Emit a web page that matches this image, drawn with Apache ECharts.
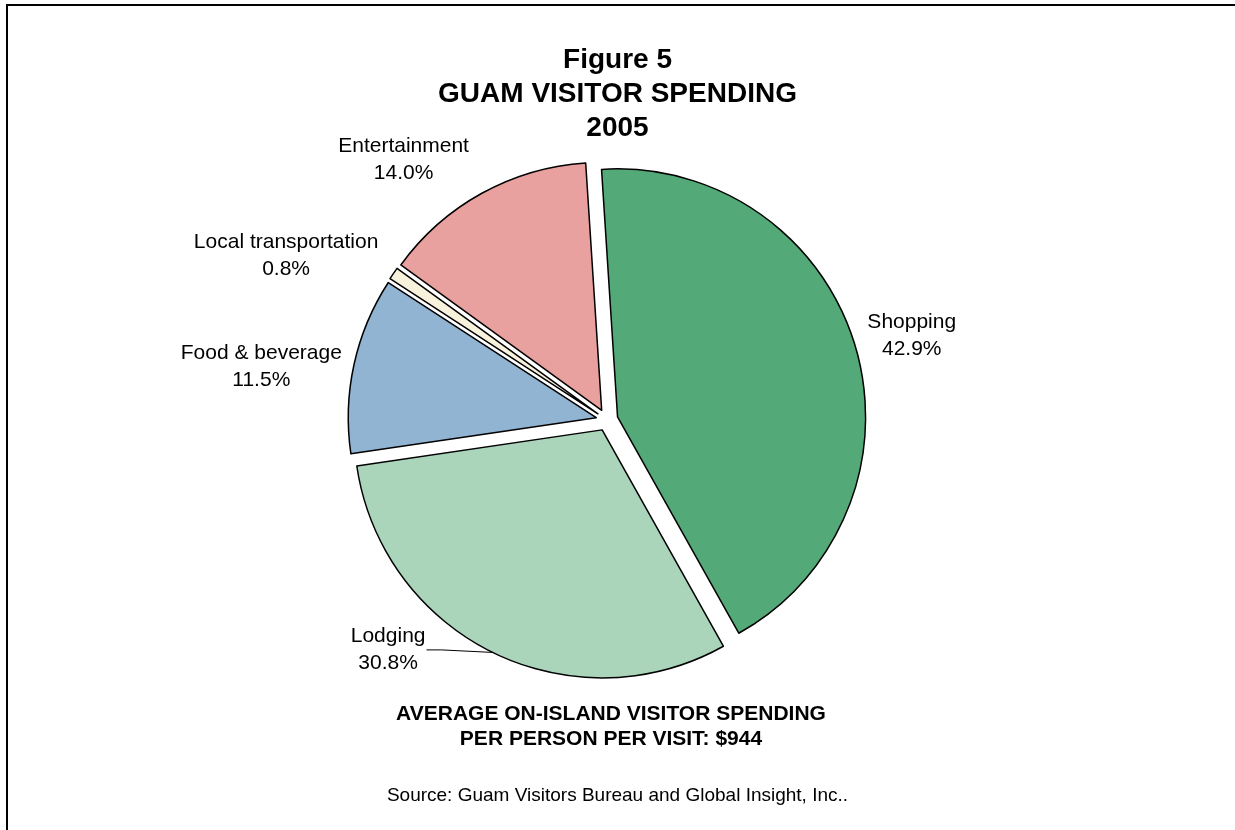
<!DOCTYPE html>
<html>
<head>
<meta charset="utf-8">
<script src="https://cdn.jsdelivr.net/npm/echarts@6/dist/echarts.min.js"></script>
<style>
  html, body { margin: 0; padding: 0; background: #ffffff; }
  #chart { width: 1235px; height: 830px; }
</style>
</head>
<body>
<div id="chart"></div>
<script>
// Spending categories and their share of average visitor spending (percent)
const CATEGORIES = ['Shopping', 'Lodging', 'Food & beverage', 'Local transportation', 'Entertainment'];
const SHARES = [42.9, 30.8, 11.5, 0.8, 14.0];

// Slice fill colours, in category order
const PALETTE = ['#53A977', '#AAD5BB', '#91B4D3', '#F8F1DC', '#E9A19F'];

// Per-label nudges (px) away from the library's outside-label anchor
const LABEL_NUDGE = [[23, -7], [-79, -16], [-59, 5], [-76, -9], [-52, -20]];

const FONT = '"Liberation Sans", Arial, Helvetica, sans-serif';

const chart = echarts.init(document.getElementById('chart'), null, { renderer: 'canvas' });

const pieData = CATEGORIES.map((name, i) => ({
  name: name,
  value: SHARES[i],
  selected: true,
  itemStyle: { color: PALETTE[i] },
  labelLine: { show: name === 'Lodging' }
}));

chart.setOption({
  animation: false,
  backgroundColor: '#ffffff',
  title: [
    {
      text: 'Figure 5\nGUAM VISITOR SPENDING\n2005',
      left: 'center',
      top: 38,
      textStyle: { fontFamily: FONT, fontWeight: 'bold', fontSize: 28, lineHeight: 34, color: '#000' }
    },
    {
      text: 'AVERAGE ON-ISLAND VISITOR SPENDING\nPER PERSON PER VISIT: $944',
      left: 606,
      textAlign: 'center',
      top: 697,
      textStyle: { fontFamily: FONT, fontWeight: 'bold', fontSize: 21, lineHeight: 25, color: '#000' }
    },
    {
      text: 'Source: Guam Visitors Bureau and Global Insight, Inc..',
      left: 'center',
      top: 781,
      textStyle: { fontFamily: FONT, fontWeight: 'normal', fontSize: 19, color: '#000' }
    }
  ],
  graphic: [
    {
      type: 'rect',
      shape: { x: 7, y: 5, width: 1400, height: 1000 },
      style: { fill: null, stroke: '#000', lineWidth: 2 },
      silent: true
    }
  ],
  series: [
    {
      type: 'pie',
      center: [607, 420],
      radius: 248,
      startAngle: 93.7,
      clockwise: true,
      selectedMode: 'multiple',
      selectedOffset: 11,
      avoidLabelOverlap: false,
      emphasis: { disabled: true },
      itemStyle: { borderColor: '#000', borderWidth: 1.5 },
      label: {
        show: true,
        position: 'outside',
        fontFamily: FONT,
        fontSize: 21,
        lineHeight: 27,
        color: '#000',
        distanceToLabelLine: 5,
        formatter: (p) => p.name + '\n' + p.value.toFixed(1) + '%'
      },
      labelLine: {
        length: 15,
        length2: 14,
        lineStyle: { color: '#000', width: 1 }
      },
      labelLayout: (params) => {
        const n = LABEL_NUDGE[params.dataIndex];
        const out = { align: 'center', verticalAlign: 'middle', dx: n[0], dy: n[1] };
        if (CATEGORIES[params.dataIndex] === 'Lodging' && params.labelLinePoints) {
          const r = params.labelRect;
          // the library's anchor for this label, then the nudged centre
          const ax = params.align === 'right' ? r.x + r.width
            : (params.align === 'center' ? r.x + r.width / 2 : r.x);
          const cx = ax + n[0];
          const cy = r.y + r.height / 2 + n[1];
          // leader: from the arc point, bend just right of the label, end at its edge
          const edge = cx + r.width / 2 + 1;
          out.labelLinePoints = [params.labelLinePoints[0], [edge + 15, cy], [edge, cy]];
        }
        return out;
      },
      data: pieData
    }
  ]
});
</script>
</body>
</html>
